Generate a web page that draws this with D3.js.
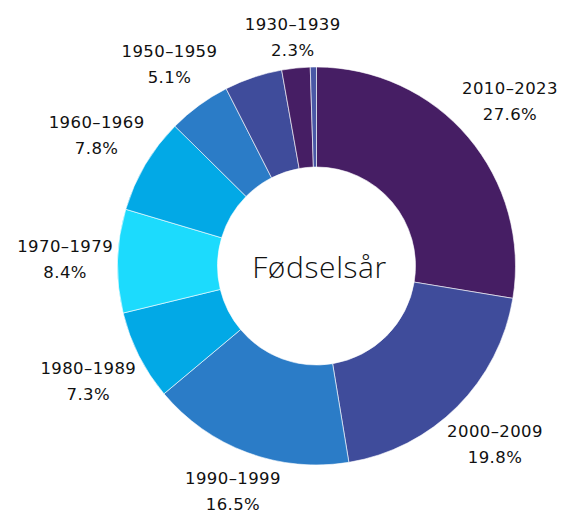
<!DOCTYPE html>
<html>
<head>
<meta charset="utf-8">
<script src="https://cdn.jsdelivr.net/npm/d3@7"></script>
<style>
  html, body { margin: 0; padding: 0; background: #fff; }
  svg { display: block; }
</style>
</head>
<body>
<svg id="chart" width="582" height="512"></svg>
<script>
// Data (clockwise from 12 o'clock)
const categories = ["2010–2023", "2000–2009", "1990–1999", "1980–1989", "1970–1979",
                    "1960–1969", "1950–1959", "1940–1949", "1930–1939", "Før 1930"];
const values = [27.6, 19.8, 16.5, 7.3, 8.4, 7.8, 5.1, 4.7, 2.3, 0.5];
const valueLabels = ["27.6%", "19.8%", "16.5%", "7.3%", "8.4%", "7.8%", "5.1%", "4.7%", "2.3%", "0.5%"];
const labelShown = [true, true, true, true, true, true, true, false, true, false];
const colors = ["#461e64", "#3f4c9b", "#2b7cc7", "#02a9e6", "#1cdbfd",
                "#02a9e6", "#2b7cc7", "#3f4c9b", "#461e64", "#4a58a6"];
const centerTitle = "Fødselsår";

const svg = d3.select("#chart");
const cx = 316.5, cy = 266;
const outerR = 199, innerR = 99;

const g = svg.append("g").attr("transform", `translate(${cx},${cy})`);

const pie = d3.pie().sort(null).value(d => d.value);
const data = categories.map((c, i) => ({ cat: c, value: values[i], label: valueLabels[i], show: labelShown[i], color: colors[i] }));
const arcs = pie(data);
const arc = d3.arc().innerRadius(innerR).outerRadius(outerR);

g.selectAll("path.slice")
  .data(arcs)
  .join("path")
  .attr("class", "slice")
  .attr("d", arc)
  .attr("fill", d => d.data.color)
  .attr("stroke", "#ffffff")
  .attr("stroke-width", 0.6);

g.append("text")
  .attr("x", 3)
  .attr("y", 0)
  .attr("text-anchor", "middle")
  .attr("dominant-baseline", "central")
  .style("font-family", "'Open Sans', sans-serif")
  .style("font-weight", 300)
  .style("font-size", "30px")
  .style("letter-spacing", "0.6px")
  .style("fill", "#111")
  .text(centerTitle);

const fontFam = "'DejaVu Sans', sans-serif";
const labelG = g.selectAll("g.lbl")
  .data(arcs.filter(d => d.data.show))
  .join("g")
  .attr("class", "lbl");

labelG.each(function(d) {
  const sel = d3.select(this);
  const mk = (y, txt) => sel.append("text")
    .attr("text-anchor", "middle")
    .attr("y", y)
    .attr("dominant-baseline", "central")
    .style("font-family", fontFam)
    .style("font-size", "16.5px")
    .style("letter-spacing", "0.4px")
    .style("font-weight", 500)
    .style("fill", "#111")
    .text(txt);
  const t1 = mk(-13, d.data.cat);
  const t2 = mk(13, d.data.label);
  const w = Math.max(t1.node().getComputedTextLength(), t2.node().getComputedTextLength());
  const h = 44;
  const a = (d.startAngle + d.endAngle) / 2;
  const s = Math.sin(a), c = Math.cos(a);
  const dist = outerR + 4 + Math.abs(s) * w / 2 + Math.abs(c) * h / 2;
  sel.attr("transform", `translate(${dist * s},${-dist * c})`);
});
</script>
</body>
</html>
